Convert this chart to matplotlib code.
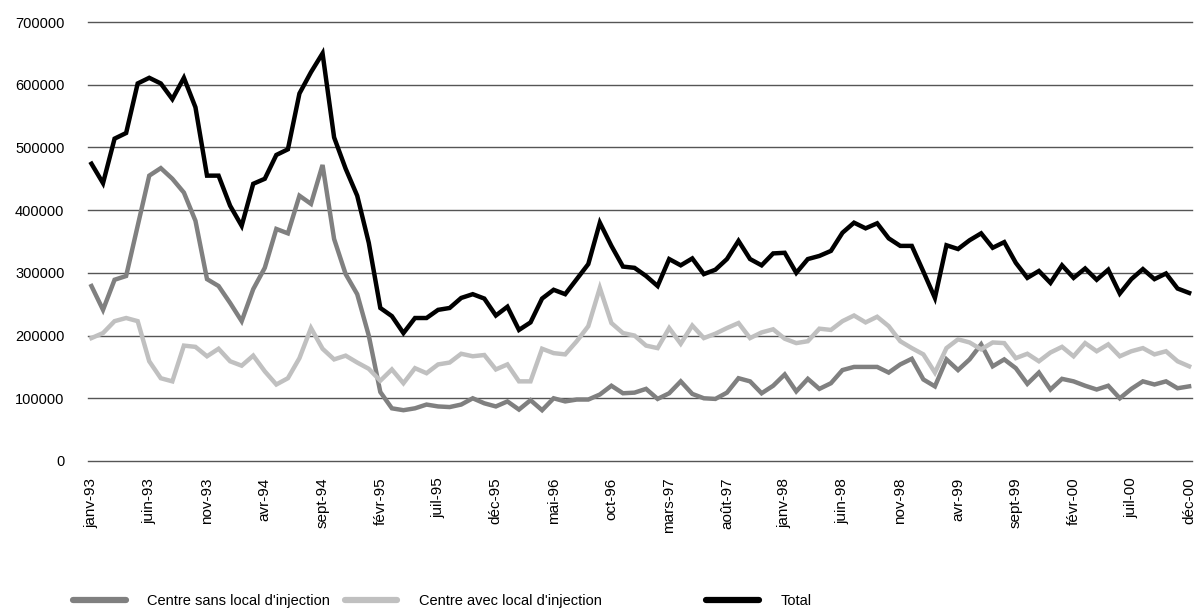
import matplotlib
matplotlib.use("Agg")
import matplotlib.pyplot as plt
from matplotlib import font_manager

names = {f.name for f in font_manager.fontManager.ttflist}
fam = ['Liberation Sans Narrow', 'DejaVu Sans'] if 'Liberation Sans Narrow' in names else ['Liberation Sans', 'DejaVu Sans']
plt.rcParams['font.family'] = fam

months = ['janv', 'févr', 'mars', 'avr', 'mai', 'juin', 'juil', 'août', 'sept', 'oct', 'nov', 'déc']
years = ['93', '94', '95', '96', '97', '98', '99', '00']
categories = [f"{m}-{y}" for y in years for m in months]

sans_local = [279000, 241000, 289000, 295000, 375000, 455000, 467000, 450000, 428000, 383000,
              290000, 279000, 252000, 223000, 274000, 308000, 370000, 363000, 423000, 410000,
              472000, 354000, 298000, 266000, 200000, 110000, 84000, 81000, 84000, 90000,
              87000, 86000, 90000, 100000, 92000, 87000, 95000, 82000, 97000, 81000,
              100000, 95000, 98000, 98000, 106000, 120000, 108000, 109000, 115000, 99000,
              108000, 127000, 107000, 100000, 99000, 109000, 132000, 127000, 108000, 120000,
              138000, 111000, 131000, 115000, 124000, 145000, 150000, 150000, 150000, 141000,
              154000, 163000, 130000, 119000, 162000, 145000, 162000, 186000, 151000, 162000,
              148000, 123000, 141000, 114000, 131000, 127000, 120000, 114000, 120000, 100000,
              115000, 127000, 122000, 127000, 116000, 119000]

avec_local = [196000, 204000, 223000, 228000, 223000, 159000, 132000, 127000, 184000, 182000,
              167000, 179000, 159000, 152000, 168000, 143000, 122000, 132000, 164000, 212000,
              179000, 162000, 168000, 157000, 147000, 128000, 146000, 124000, 148000, 140000,
              154000, 157000, 171000, 167000, 169000, 146000, 154000, 127000, 127000, 179000,
              172000, 170000, 191000, 215000, 276000, 220000, 204000, 200000, 184000, 180000,
              212000, 187000, 216000, 196000, 203000, 212000, 220000, 196000, 205000, 210000,
              195000, 188000, 191000, 211000, 209000, 223000, 232000, 221000, 230000, 215000,
              191000, 180000, 170000, 141000, 180000, 194000, 189000, 178000, 189000, 188000,
              164000, 171000, 159000, 173000, 182000, 167000, 188000, 175000, 186000, 167000,
              175000, 180000, 170000, 175000, 159000, 151000]

total = [474000, 443000, 514000, 523000, 602000, 611000, 602000, 577000, 611000, 564000,
         455000, 455000, 407000, 375000, 442000, 450000, 488000, 497000, 586000, 620000,
         650000, 516000, 466000, 423000, 348000, 244000, 231000, 204000, 228000, 228000,
         241000, 244000, 260000, 266000, 259000, 232000, 246000, 209000, 221000, 259000,
         273000, 266000, 290000, 314000, 380000, 343000, 310000, 308000, 295000, 279000,
         322000, 312000, 323000, 298000, 305000, 322000, 351000, 322000, 312000, 331000,
         332000, 300000, 322000, 327000, 335000, 364000, 380000, 371000, 379000, 355000,
         343000, 343000, 302000, 260000, 344000, 338000, 352000, 363000, 340000, 349000,
         316000, 292000, 303000, 284000, 312000, 292000, 307000, 289000, 305000, 267000,
         290000, 306000, 290000, 299000, 275000, 268000]

yticks = [0, 100000, 200000, 300000, 400000, 500000, 600000, 700000]
labels_series = ["Centre sans local d'injection", "Centre avec local d'injection", "Total"]

fig = plt.figure(figsize=(11.96, 6.13), dpi=100)
ax = fig.add_axes([88/1196, 1 - 461/613, (1192-88)/1196, (461-22)/613])

x = list(range(len(categories)))
l1, = ax.plot(x, sans_local, color='#808080', lw=3.2, solid_joinstyle='miter', label=labels_series[0])
l2, = ax.plot(x, avec_local, color='#c0c0c0', lw=3.2, solid_joinstyle='miter', label=labels_series[1])
l3, = ax.plot(x, total, color='#000000', lw=3.2, solid_joinstyle='miter', label=labels_series[2])

ax.set_ylim(0, 700000)
ax.set_xlim(-0.3, len(categories) - 1 + 0.25)
ax.set_yticks(yticks)
ax.set_yticklabels([str(v) for v in yticks], fontsize=10.5)
ax.yaxis.grid(True, color='#555555', lw=1)
for gl in ax.get_ygridlines():
    gl.set_clip_on(False)
ax.set_axisbelow(True)
for s in ax.spines.values():
    s.set_visible(False)
ax.tick_params(axis='y', length=0, pad=17)
ax.tick_params(axis='x', length=0, pad=12)
tick_idx = list(range(0, len(categories), 5))
ax.set_xticks(tick_idx)
ax.set_xticklabels([categories[i] for i in tick_idx], rotation=90, fontsize=11, va='top')

leg_pos = [(73/1196, 0.008), (345/1196, 0.008), (706/1196, 0.008)]
for h, pos in zip([l1, l2, l3], leg_pos):
    leg = fig.legend(handles=[h], loc='lower left', bbox_to_anchor=pos, frameon=False,
                     borderpad=0, borderaxespad=0, handlelength=3.6, handletextpad=1.5,
                     fontsize=10.5)
    for line in leg.get_lines():
        line.set_linewidth(4.5)
        line.set_solid_capstyle('round')

fig.savefig('out.png', dpi=100)
